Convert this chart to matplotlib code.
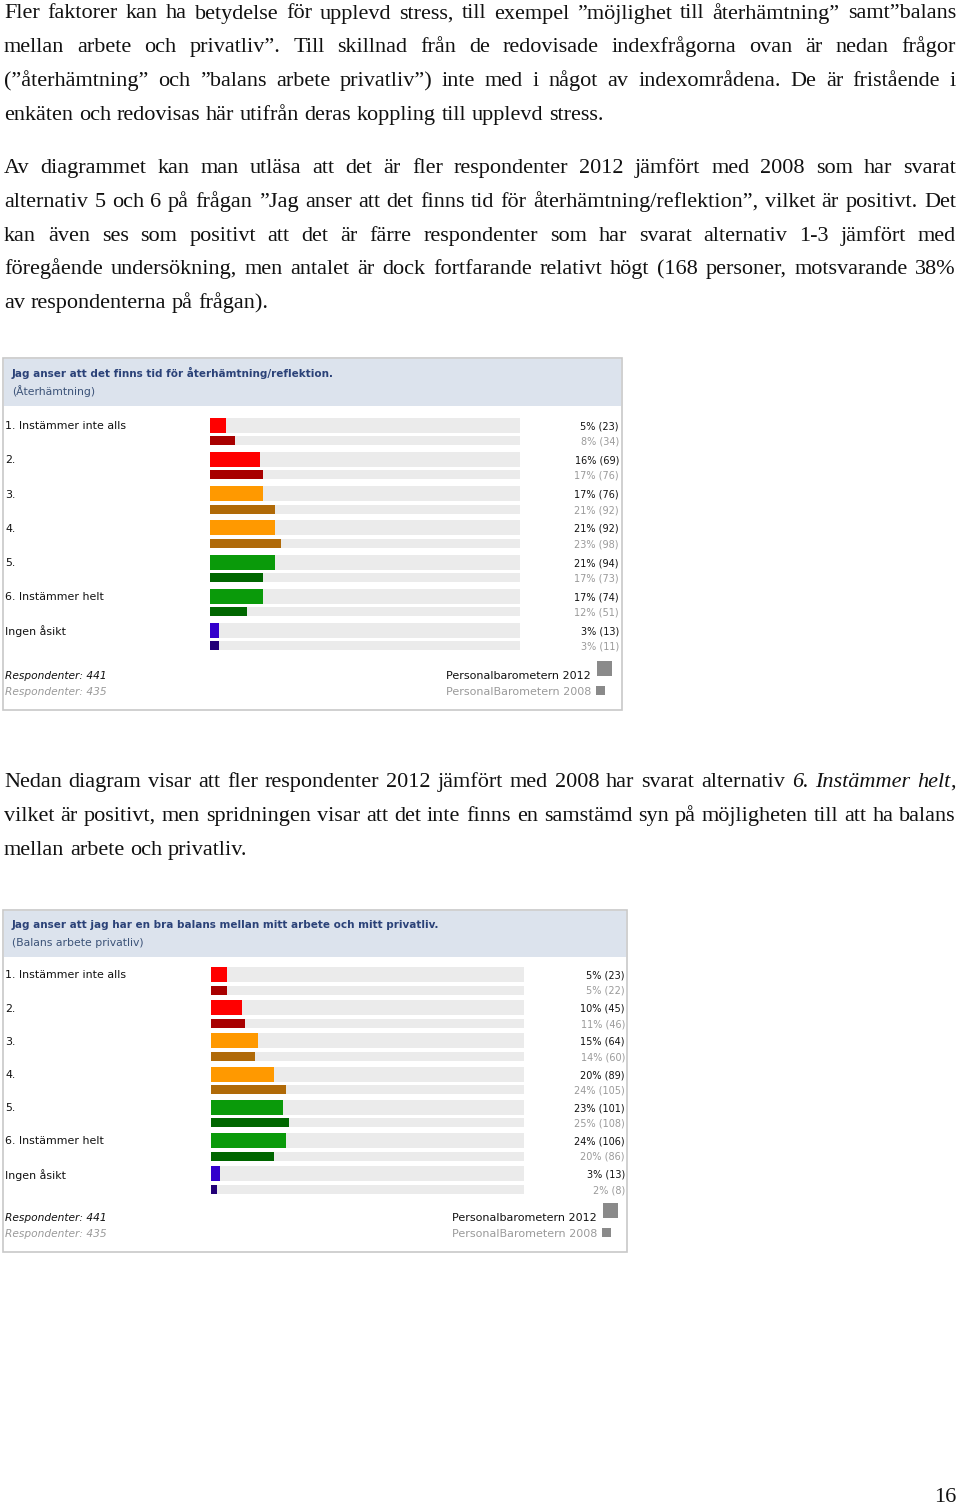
import matplotlib
matplotlib.use("Agg")
import matplotlib.pyplot as plt
import numpy as np
from matplotlib.patches import Rectangle
from matplotlib import transforms

W, H = 960, 1505
DPI = 100

# ---- data ----
categories = ["1. Instämmer inte alls", "2.", "3.", "4.", "5.", "6. Instämmer helt", "Ingen åsikt"]

ater_2012_pct = [5, 16, 17, 21, 21, 17, 3]
ater_2012_n = [23, 69, 76, 92, 94, 74, 13]
ater_2008_pct = [8, 17, 21, 23, 17, 12, 3]
ater_2008_n = [34, 76, 92, 98, 73, 51, 11]

bal_2012_pct = [5, 10, 15, 20, 23, 24, 3]
bal_2012_n = [23, 45, 64, 89, 101, 106, 13]
bal_2008_pct = [5, 11, 14, 24, 25, 20, 2]
bal_2008_n = [22, 46, 60, 105, 108, 86, 8]

resp_2012 = [441, 441]
resp_2008 = [435, 435]

colors_2012 = ["#ff0000", "#ff0000", "#ff9900", "#ff9900", "#0a9a0a", "#0a9a0a", "#3300cc"]
colors_2008 = ["#a80000", "#a80000", "#b06a08", "#b06a08", "#006600", "#006600", "#220077"]

para1 = [
    "Fler faktorer kan ha betydelse för upplevd stress, till exempel ”möjlighet till återhämtning” samt”balans",
    "mellan arbete och privatliv”. Till skillnad från de redovisade indexfrågorna ovan är nedan frågor",
    "(”återhämtning” och ”balans arbete privatliv”) inte med i något av indexområdena. De är fristående i",
    "enkäten och redovisas här utifrån deras koppling till upplevd stress.",
]
para2 = [
    "Av diagrammet kan man utläsa att det är fler respondenter 2012 jämfört med 2008 som har svarat",
    "alternativ 5 och 6 på frågan ”Jag anser att det finns tid för återhämtning/reflektion”, vilket är positivt. Det",
    "kan även ses som positivt att det är färre respondenter som har svarat alternativ 1-3 jämfört med",
    "föregående undersökning, men antalet är dock fortfarande relativt högt (168 personer, motsvarande 38%",
    "av respondenterna på frågan).",
]
para3 = [
    "Nedan diagram visar att fler respondenter 2012 jämfört med 2008 har svarat alternativ *6.* *Instämmer* *helt*,",
    "vilket är positivt, men spridningen visar att det inte finns en samstämd syn på möjligheten till att ha balans",
    "mellan arbete och privatliv.",
]

fig = plt.figure(figsize=(W / DPI, H / DPI), dpi=DPI)
fig.patch.set_facecolor("white")
page = fig.add_axes([0, 0, 1, 1])
page.set_xlim(0, W)
page.set_ylim(H, 0)
page.axis("off")

renderer = fig.canvas.get_renderer()
BODY = dict(family="Liberation Serif", size=16, color="#111111")


def text_width(s, italic=False):
    t = page.text(0, 0, s, fontstyle="italic" if italic else "normal", **BODY)
    w = t.get_window_extent(renderer).width
    t.remove()
    return w


def parse_word(word):
    # '*' toggles italic
    runs = []
    italic = False
    for k, part in enumerate(word.split("*")):
        if k > 0:
            italic = not italic
        if part:
            runs.append((part, italic))
    return runs


SPACE = text_width("a a") - text_width("aa")


def draw_paragraph(lines, y0, x0=4, x1=956, lead=33.8):
    for k, line in enumerate(lines):
        words = [parse_word(w) for w in line.split(" ")]
        widths = [sum(text_width(t, it) for t, it in w) for w in words]
        y = y0 + k * lead
        if k == len(lines) - 1:
            gap = SPACE
        else:
            gap = (x1 - x0 - sum(widths)) / (len(words) - 1)
        x = x0
        for w, wd in zip(words, widths):
            xx = x
            for t, it in w:
                page.text(xx, y, t, ha="left", va="baseline",
                          fontstyle="italic" if it else "normal", **BODY)
                xx += text_width(t, it)
            x += wd + gap


draw_paragraph(para1, 18.5)
draw_paragraph(para2, 173)
draw_paragraph(para3, 787)
page.text(956, 1502, "16", ha="right", va="baseline", **BODY)

CH = dict(family="DejaVu Sans")
TRACK = "#ebebeb"


def draw_chart(box, header_h, title, subtitle, x0, x100, row_top, pitch,
               p12, n12, p08, n08, r12, r08, value_right, legend_y):
    bx0, by0, bx1, by1 = box
    page.add_patch(Rectangle((bx0, by0), bx1 - bx0, by1 - by0, facecolor="white",
                             edgecolor="#c8c8c8", lw=1.2))
    page.add_patch(Rectangle((bx0 + 1, by0 + 1), bx1 - bx0 - 2, header_h,
                             facecolor="#dce3ed", edgecolor="none"))
    page.text(bx0 + 9, by0 + 15, title, ha="left", va="center", fontsize=7.5,
              fontweight="bold", color="#2b4278", **CH)
    page.text(bx0 + 9, by0 + 33, subtitle, ha="left", va="center", fontsize=7.8,
              color="#3c5378", **CH)

    n = len(categories)
    ax = fig.add_axes([x0 / W, 1 - (row_top + n * pitch) / H,
                       (x100 - x0) / W, n * pitch / H])
    ax.set_xlim(0, 100)
    ax.set_ylim(n - 0.5, -0.5)
    ax.axis("off")
    ys = np.arange(n)
    off = 7.75 / pitch
    h12 = 15 / pitch
    h08 = 9 / pitch
    ax.barh(ys - off, 100, height=h12, color=TRACK)
    ax.barh(ys + off, 100, height=h08, color=TRACK)
    ax.barh(ys - off, p12, height=h12, color=colors_2012)
    ax.barh(ys + off, p08, height=h08, color=colors_2008)

    tr = transforms.blended_transform_factory(page.transData, ax.transData)
    for i in range(n):
        page.text(bx0 + 2, i - off + 0.03, categories[i], transform=tr, ha="left", va="center",
                  fontsize=7.9, color="#111111", **CH)
        page.text(value_right, i - off + 0.03, f"{p12[i]}% ({n12[i]})", transform=tr,
                  ha="right", va="center", fontsize=7.0, color="#111111", **CH)
        page.text(value_right, i + off + 0.03, f"{p08[i]}% ({n08[i]})", transform=tr,
                  ha="right", va="center", fontsize=7.0, color="#9a9a9a", **CH)

    page.text(bx0 + 2, legend_y, f"Respondenter: {r12}", ha="left", va="center",
              fontsize=7.7, fontstyle="italic", color="#111111", **CH)
    page.text(bx0 + 2, legend_y + 16, f"Respondenter: {r08}", ha="left", va="center",
              fontsize=7.7, fontstyle="italic", color="#9a9a9a", **CH)
    page.text(value_right - 28, legend_y, "Personalbarometern 2012", ha="right", va="center",
              fontsize=8.0, color="#111111", **CH)
    page.add_patch(Rectangle((value_right - 22, legend_y - 15), 15, 15, facecolor="#8a8a8a",
                             edgecolor="none"))
    page.text(value_right - 28, legend_y + 16, "PersonalBarometern 2008", ha="right", va="center",
              fontsize=8.0, color="#9a9a9a", **CH)
    page.add_patch(Rectangle((value_right - 23, legend_y + 10), 9, 9, facecolor="#8a8a8a",
                             edgecolor="none"))


draw_chart((3, 358, 622, 710), 47,
           "Jag anser att det finns tid för återhämtning/reflektion.", "(Återhämtning)",
           210, 520, 415.9, 34.2,
           ater_2012_pct, ater_2012_n, ater_2008_pct, ater_2008_n,
           resp_2012[0], resp_2008[0], 619, 676)

draw_chart((3, 910, 627, 1252), 46,
           "Jag anser att jag har en bra balans mellan mitt arbete och mitt privatliv.",
           "(Balans arbete privatliv)",
           211, 524, 965.65, 33.2,
           bal_2012_pct, bal_2012_n, bal_2008_pct, bal_2008_n,
           resp_2012[1], resp_2008[1], 625, 1218)

fig.savefig("out.png", dpi=DPI, facecolor="white")
